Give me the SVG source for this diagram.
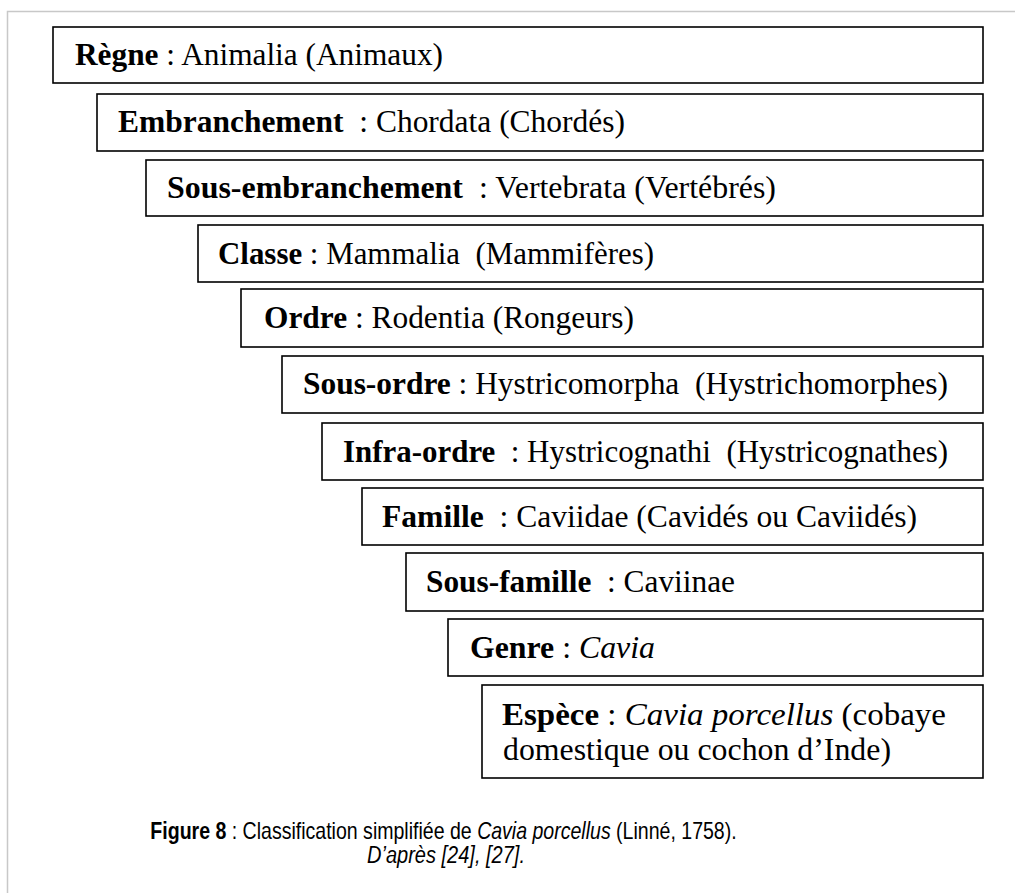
<svg xmlns="http://www.w3.org/2000/svg" width="1015" height="893" viewBox="0 0 1015 893">
<style>
.box{fill:#fff;stroke:#000;stroke-width:1.6}
.t{font-family:"Liberation Serif","Times New Roman",serif;font-size:31px;fill:#000}
.b{font-weight:bold}
.i{font-style:italic}
.cap{font-family:"Liberation Sans",Arial,sans-serif;font-size:23px;fill:#000;text-anchor:middle}
.frame{stroke:#c8c8c8;stroke-width:1.5;fill:none}
</style>
<rect width="1015" height="893" fill="#fff"/>
<path class="frame" d="M7.5 893 V11.5 H1015"/>
<g id="regne"><rect class="box" x="53" y="27" width="930" height="56"/>
<text class="t" x="75" y="65" xml:space="preserve" textLength="368" lengthAdjust="spacingAndGlyphs"><tspan class="b">Règne</tspan> : Animalia (Animaux)</text></g>
<g id="embranchement"><rect class="box" x="97" y="94" width="886" height="57"/>
<text class="t" x="118" y="132" xml:space="preserve" textLength="507" lengthAdjust="spacingAndGlyphs"><tspan class="b">Embranchement</tspan>  : Chordata (Chordés)</text></g>
<g id="sous-embranchement"><rect class="box" x="146" y="160" width="837" height="56"/>
<text class="t" x="167" y="198" xml:space="preserve" textLength="609" lengthAdjust="spacingAndGlyphs"><tspan class="b">Sous-embranchement</tspan>  : Vertebrata (Vertébrés)</text></g>
<g id="classe"><rect class="box" x="198" y="225" width="785" height="57"/>
<text class="t" x="218" y="264" xml:space="preserve" textLength="436" lengthAdjust="spacingAndGlyphs"><tspan class="b">Classe</tspan> : Mammalia  (Mammifères)</text></g>
<g id="ordre"><rect class="box" x="241" y="289" width="742" height="58"/>
<text class="t" x="264" y="328" xml:space="preserve" textLength="370" lengthAdjust="spacingAndGlyphs"><tspan class="b">Ordre</tspan> : Rodentia (Rongeurs)</text></g>
<g id="sous-ordre"><rect class="box" x="282" y="356" width="701" height="57"/>
<text class="t" x="303" y="394" xml:space="preserve" textLength="645" lengthAdjust="spacingAndGlyphs"><tspan class="b">Sous-ordre</tspan> : Hystricomorpha  (Hystrichomorphes)</text></g>
<g id="infra-ordre"><rect class="box" x="322" y="423" width="661" height="57"/>
<text class="t" x="343" y="462" xml:space="preserve" textLength="605" lengthAdjust="spacingAndGlyphs"><tspan class="b">Infra-ordre</tspan>  : Hystricognathi  (Hystricognathes)</text></g>
<g id="famille"><rect class="box" x="362" y="488" width="621" height="57"/>
<text class="t" x="382" y="527" xml:space="preserve" textLength="535" lengthAdjust="spacingAndGlyphs"><tspan class="b">Famille</tspan>  : Caviidae (Cavidés ou Caviidés)</text></g>
<g id="sous-famille"><rect class="box" x="406" y="553" width="577" height="58"/>
<text class="t" x="426" y="592" xml:space="preserve" textLength="309" lengthAdjust="spacingAndGlyphs"><tspan class="b">Sous-famille</tspan>  : Caviinae</text></g>
<g id="genre"><rect class="box" x="448" y="619" width="535" height="57"/>
<text class="t" x="470" y="658" xml:space="preserve" textLength="185" lengthAdjust="spacingAndGlyphs"><tspan class="b">Genre</tspan> : <tspan class="i">Cavia</tspan></text></g>
<g id="espece"><rect class="box" x="482" y="685" width="501" height="93"/>
<text class="t" x="502" y="725" xml:space="preserve" textLength="444" lengthAdjust="spacingAndGlyphs"><tspan class="b">Espèce</tspan> : <tspan class="i">Cavia porcellus</tspan> (cobaye</text>
<text class="t" x="503" y="760" xml:space="preserve" textLength="388" lengthAdjust="spacingAndGlyphs">domestique ou cochon d’Inde)</text></g>
<g id="connectors"></g>
<g id="caption">
<text class="cap" transform="translate(443.5 839) scale(0.85 1)"><tspan font-weight="bold">Figure 8</tspan> : Classification simplifiée de <tspan font-style="italic">Cavia porcellus</tspan> (Linné, 1758).</text>
<text class="cap" transform="translate(446 863) scale(0.87 1)" font-style="italic">D’après [24], [27].</text>
</g>
</svg>
